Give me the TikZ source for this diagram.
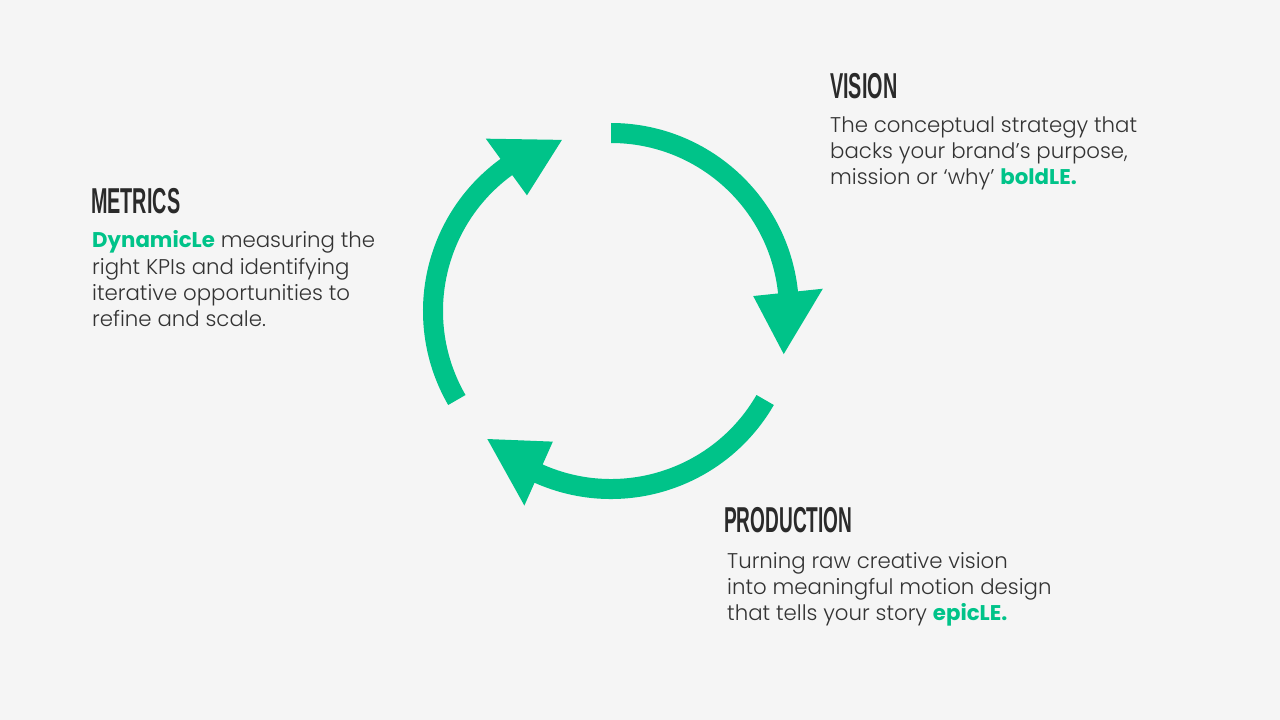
\documentclass[tikz,border=0pt]{standalone}
\usepackage{fontspec}
\setmainfont{Poppins}[UprightFont=* Light, BoldFont=* Bold]
\newfontfamily\headfont{Liberation Sans}
\usepackage{graphicx}
\definecolor{bg}{HTML}{F5F5F5}
\definecolor{grn}{HTML}{00C389}
\definecolor{txt}{HTML}{333333}
\definecolor{head}{HTML}{2A2A2A}
\tikzset{
  body/.style={anchor=base west, inner sep=0pt, text=txt, font=\fontsize{21.3bp}{26bp}\selectfont},
  heading/.style={anchor=base west, inner sep=0pt, text=head, font=\fontsize{36bp}{36bp}\headfont\bfseries},
  arrowfill/.style={fill=grn, draw=none}
}
\newcommand{\hl}[1]{\textcolor{grn}{\bfseries #1}}
\newcommand{\cyclearrow}[1]{%
  \pgfmathsetmacro{\ea}{#1-84}%
  \pgfmathsetmacro{\ta}{#1-104}%
  \fill[arrowfill] (#1:188) arc[start angle=#1, end angle=\ea, radius=188]
    -- (\ea:213) -- (\ta:178) -- (\ea:143) -- (\ea:168)
    arc[start angle=\ea, end angle=#1, radius=168] -- cycle;}
\begin{document}
\begin{tikzpicture}[x=1bp, y=-1bp]
\fill[bg] (0,0) rectangle (1280,720);
\useasboundingbox (0,0) rectangle (1280,720);
\begin{scope}[shift={(611,311)}, yscale=-1]
  \cyclearrow{90}
  \cyclearrow{330}
  \cyclearrow{210}
\end{scope}
% VISION
\node[heading] (vh) at (830,99) {\scalebox{0.55}[1]{VISION}};
\node[body] (v1) at (830,133) {The conceptual strategy that};
\node[body] (v2) at (830,159) {backs your brand’s purpose,};
\node[body] (v3) at (830,185) {mission or ‘why’ \hl{boldLE.}};
% METRICS
\node[heading] (mh) at (91,214) {\scalebox{0.55}[1]{METRICS}};
\node[body] (m1) at (92,248) {\hl{DynamicLe} measuring the};
\node[body] (m2) at (92,274) {right KPIs and identifying};
\node[body] (m3) at (92,300) {iterative opportunities to};
\node[body] (m4) at (92,326) {refine and scale.};
% PRODUCTION
\node[heading] (ph) at (724,532) {\scalebox{0.53}[1]{PRODUCTION}};
\node[body] (p1) at (727,568) {Turning raw creative vision};
\node[body] (p2) at (727,594) {into meaningful motion design};
\node[body] (p3) at (727,620) {that tells your story \hl{epicLE.}};
\end{tikzpicture}
\end{document}
